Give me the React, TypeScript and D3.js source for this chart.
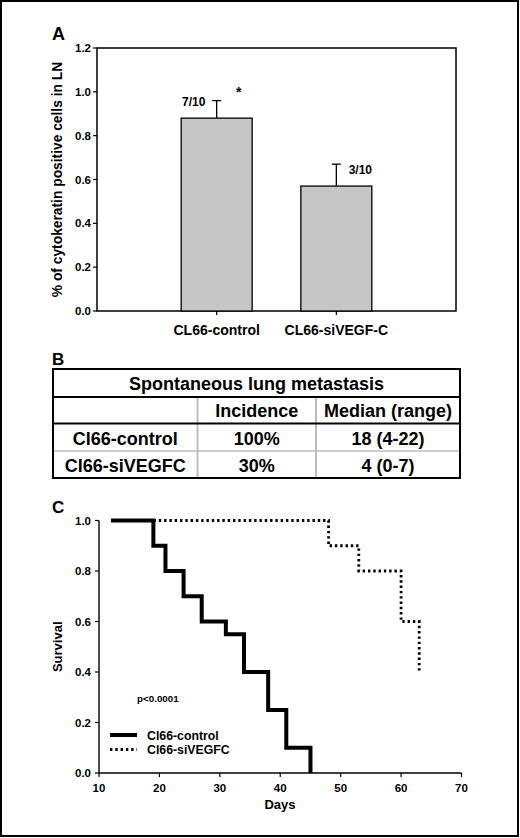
import * as d3 from 'd3';

// Panel A data
const groupsA = ['CL66-control', 'CL66-siVEGF-C'];
const meansA = [0.88, 0.57];
const errTopA = [0.96, 0.67];
const ratioA = ['7/10', '3/10'];
const yTicksA = [0, 0.2, 0.4, 0.6, 0.8, 1.0, 1.2];

// Panel B table
const tableTitle = 'Spontaneous lung metastasis';
const tableHeader = ['', 'Incidence', 'Median (range)'];
const tableRows = [
  ['Cl66-control', '100%', '18 (4-22)'],
  ['Cl66-siVEGFC', '30%', '4 (0-7)'],
];

// Panel C survival steps (day, survival)
const controlDays = [12, 19, 21, 24, 27, 31, 34, 38, 41, 45];
const controlSurv = [1.0, 0.9, 0.8, 0.7, 0.6, 0.55, 0.4, 0.25, 0.1, 0.0];
const siDays = [12, 48, 53, 60, 63];
const siSurv = [1.0, 0.9, 0.8, 0.6, 0.4];
const xTicksC = [10, 20, 30, 40, 50, 60, 70];
const yTicksC = [0, 0.2, 0.4, 0.6, 0.8, 1.0];

const FONT = "'Liberation Sans', Arial, sans-serif";
const DOTS = '2.4 2.9';

const App = () => {
  // ---- Panel A scales
  const xA = d3.scalePoint<string>().domain(groupsA).range([97, 456]).padding(1);
  const yA = d3.scaleLinear().domain([0, 1.2]).range([311, 48]);
  const barW = 71;

  // ---- Panel B geometry
  const tL = 53, tR = 460;
  const rowsY = [369, 397, 423.5, 451, 478];
  const colX = [tL, 197.5, 316, tR];

  // ---- Panel C scales
  const xC = d3.scaleLinear().domain([10, 70]).range([99, 461.5]);
  const yC = d3.scaleLinear().domain([0, 1]).range([773, 520.5]);
  const stepLine = d3.line<[number, number]>()
    .x(d => xC(d[0]))
    .y(d => yC(d[1]))
    .curve(d3.curveStepAfter);
  const ctrlPts: [number, number][] = controlDays.map((d, i) => [d, controlSurv[i]]);
  const siPts: [number, number][] = siDays.map((d, i) => [d, siSurv[i]]);

  return (
    <svg width={520} height={838} style={{ position: 'absolute', left: 0, top: 0, background: '#fff' }}
      fontFamily={FONT} fontWeight="bold">
      <rect x={1} y={1} width={517} height={835} fill="#fff" stroke="#000" strokeWidth={2} />

      {/* ===== Panel A ===== */}
      <text x={52} y={40} fontSize={18}>A</text>
      <rect x={97} y={48} width={359} height={263} fill="none" stroke="#000" strokeWidth={1.5} />
      {yTicksA.map(t => (
        <g key={t}>
          <line x1={93} x2={97} y1={yA(t)} y2={yA(t)} stroke="#000" strokeWidth={1.2} />
          <text x={91} y={yA(t) + 4} fontSize={11.5} textAnchor="end">{t.toFixed(1)}</text>
        </g>
      ))}
      {groupsA.map((g, i) => {
        const cx = xA(g) as number;
        return (
          <g key={g}>
            <line x1={cx} x2={cx} y1={311} y2={315} stroke="#000" strokeWidth={1.2} />
            <line x1={cx} x2={cx} y1={yA(meansA[i])} y2={yA(errTopA[i])} stroke="#000" strokeWidth={1.3} />
            <line x1={cx - 4.5} x2={cx + 4.5} y1={yA(errTopA[i])} y2={yA(errTopA[i])} stroke="#000" strokeWidth={1.3} />
            <rect x={cx - barW / 2} y={yA(meansA[i])} width={barW} height={yA(0) - yA(meansA[i])}
              fill="#c6c6c6" stroke="#000" strokeWidth={1.3} />
            <text x={cx} y={335} fontSize={14} textAnchor="middle">{g}</text>
          </g>
        );
      })}
      <text x={(xA(groupsA[0]) as number) - 23} y={yA(errTopA[0]) + 5} fontSize={12} textAnchor="middle">{ratioA[0]}</text>
      <text x={(xA(groupsA[0]) as number) + 22} y={yA(errTopA[0]) - 4} fontSize={14} textAnchor="middle">*</text>
      <text x={(xA(groupsA[1]) as number) + 24} y={yA(errTopA[1]) + 10} fontSize={12} textAnchor="middle">{ratioA[1]}</text>
      <text transform={`translate(62,${(48 + 311) / 2}) rotate(-90)`} fontSize={13.8} textAnchor="middle">
        % of cytokeratin positive cells in LN
      </text>

      {/* ===== Panel B ===== */}
      <text x={52} y={365} fontSize={17}>B</text>
      {colX.slice(1, 3).map(x => (
        <line key={x} x1={x} x2={x} y1={rowsY[1]} y2={rowsY[4]} stroke="#bdbdbd" strokeWidth={2} />
      ))}
      <line x1={tL} x2={tR} y1={rowsY[3]} y2={rowsY[3]} stroke="#bdbdbd" strokeWidth={1.6} />
      <line x1={tL} x2={tR} y1={rowsY[1]} y2={rowsY[1]} stroke="#000" strokeWidth={2} />
      <line x1={tL} x2={tR} y1={rowsY[2]} y2={rowsY[2]} stroke="#000" strokeWidth={2} />
      <rect x={tL} y={rowsY[0]} width={tR - tL} height={rowsY[4] - rowsY[0]} fill="none" stroke="#000" strokeWidth={2} />
      <text x={(tL + tR) / 2} y={390} fontSize={18} textAnchor="middle">{tableTitle}</text>
      {tableHeader.map((h, j) => (
        <text key={j} x={(colX[j] + colX[j + 1]) / 2} y={417} fontSize={18} textAnchor="middle">{h}</text>
      ))}
      {tableRows.map((r, i) => r.map((c, j) => (
        <text key={i + '-' + j} x={(colX[j] + colX[j + 1]) / 2} y={rowsY[i + 2] + 21} fontSize={18} textAnchor="middle">{c}</text>
      )))}

      {/* ===== Panel C ===== */}
      <text x={52} y={513} fontSize={17}>C</text>
      <line x1={99} x2={99} y1={yC(1)} y2={yC(0)} stroke="#000" strokeWidth={1.4} />
      <line x1={99} x2={461.5} y1={yC(0)} y2={yC(0)} stroke="#000" strokeWidth={1.4} />
      {yTicksC.map(t => (
        <g key={t}>
          <line x1={95} x2={99} y1={yC(t)} y2={yC(t)} stroke="#000" strokeWidth={1.2} />
          <text x={91} y={yC(t) + 4} fontSize={11.5} textAnchor="end">{t.toFixed(1)}</text>
        </g>
      ))}
      {xTicksC.map(t => (
        <g key={t}>
          <line x1={xC(t)} x2={xC(t)} y1={773} y2={777} stroke="#000" strokeWidth={1.2} />
          <text x={xC(t)} y={792} fontSize={11.5} textAnchor="middle">{t}</text>
        </g>
      ))}
      <text x={280} y={809} fontSize={13} textAnchor="middle">Days</text>
      <text transform={`translate(62,${(yC(0) + yC(1)) / 2}) rotate(-90)`} fontSize={13} textAnchor="middle">Survival</text>

      <path d={stepLine(siPts) || ''} fill="none" stroke="#000" strokeWidth={2.8} strokeDasharray={DOTS} />
      <path d={stepLine(ctrlPts) || ''} fill="none" stroke="#000" strokeWidth={4} />

      <text x={137} y={702} fontSize={9.8}>p&lt;0.0001</text>
      <line x1={110} x2={137} y1={735} y2={735} stroke="#000" strokeWidth={4} />
      <text x={147} y={739.5} fontSize={12.3}>Cl66-control</text>
      <line x1={110} x2={137} y1={749.5} y2={749.5} stroke="#000" strokeWidth={2.8} strokeDasharray={DOTS} />
      <text x={147} y={754} fontSize={12.3}>Cl66-siVEGFC</text>
    </svg>
  );
};

export default App;
